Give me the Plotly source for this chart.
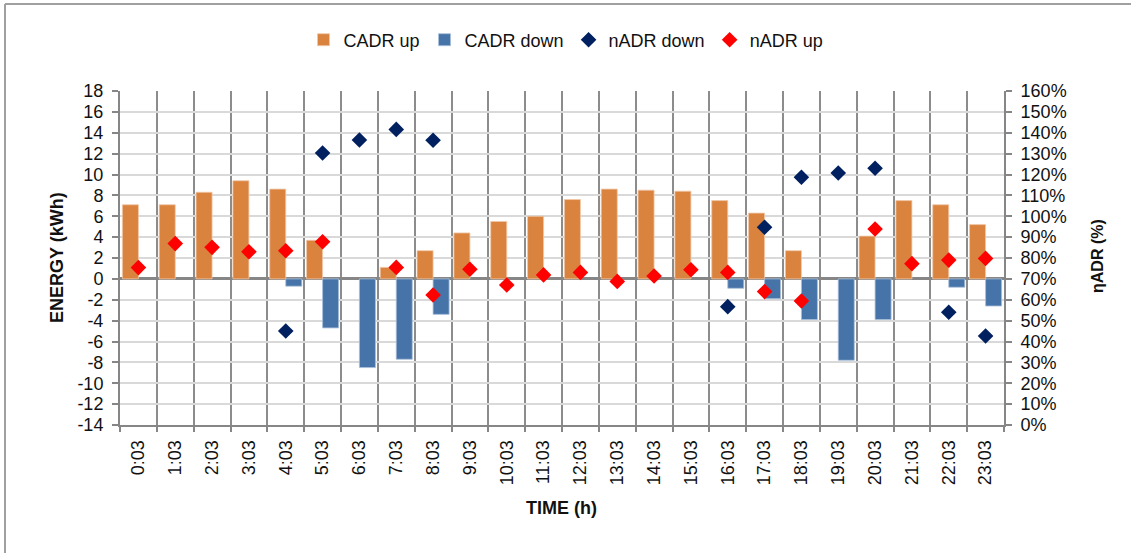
import plotly.graph_objects as go

times = ["0:03", "1:03", "2:03", "3:03", "4:03", "5:03", "6:03", "7:03", "8:03", "9:03",
         "10:03", "11:03", "12:03", "13:03", "14:03", "15:03", "16:03", "17:03", "18:03",
         "19:03", "20:03", "21:03", "22:03", "23:03"]

cadr_up = [7.1, 7.1, 8.3, 9.4, 8.6, 3.7, None, 1.1, 2.7, 4.4, 5.5, 6.0, 7.6, 8.6, 8.5, 8.4,
           7.5, 6.3, 2.7, None, 4.1, 7.5, 7.1, 5.2]
cadr_down = [None, None, None, None, -0.7, -4.7, -8.5, -7.7, -3.4, None, None, None, None,
             None, None, None, -0.9, -1.9, -3.9, -7.8, -3.9, None, -0.8, -2.6]
nadr_down = [None, None, None, None, 0.45, 1.303, 1.365, 1.416, 1.364, None, None, None,
             None, None, None, None, 0.567, 0.947, 1.187, 1.207, 1.23, None, 0.54, 0.426]
nadr_up = [0.754, 0.869, 0.851, 0.830, 0.835, 0.878, None, 0.755, 0.623, 0.746, 0.671,
           0.719, 0.731, 0.688, 0.714, 0.744, 0.731, 0.639, 0.594, None, 0.939, 0.773,
           0.790, 0.798]

energy_ticks = [18, 16, 14, 12, 10, 8, 6, 4, 2, 0, -2, -4, -6, -8, -10, -12, -14]
energy_labels = ["18", "16", "14", "12", "10", "8", "6", "4", "2", "0", "-2", "-4", "-6",
                 "-8", "-10", "-12", "-14"]

FONT = "Liberation Sans, Arial, sans-serif"
AX = "#868686"
TXT = "#111111"

fig = go.Figure()
fig.add_trace(go.Bar(x=times, y=cadr_up, name="CADR up",
                     marker=dict(color="#DA833F", line=dict(color="#F0C8A8", width=0.8))))
fig.add_trace(go.Bar(x=times, y=cadr_down, name="CADR down",
                     marker=dict(color="#4674A9", line=dict(color="#A9BFDA", width=0.8))))
fig.add_trace(go.Scatter(x=times, y=nadr_down, name="nADR down", mode="markers", yaxis="y2",
                         marker=dict(symbol="diamond", size=12, color="#002060")))
fig.add_trace(go.Scatter(x=times, y=nadr_up, name="nADR up", mode="markers", yaxis="y2",
                         marker=dict(symbol="diamond", size=12, color="#FF0000")))

L, R, T, B = 120, 1004, 91, 425
W, H = 1131, 553
pw, ph = R - L, B - T

def px(x):
    return (x - L) / pw

def py(y):
    return (B - y) / ph

fig.update_layout(
    width=W, height=H,
    margin=dict(l=L, r=W - R, t=T, b=H - B, pad=0),
    paper_bgcolor="white", plot_bgcolor="white",
    font=dict(family=FONT, size=18, color=TXT),
    barmode="group", bargap=0.13, bargroupgap=0,
    showlegend=True,
    legend=dict(orientation="h", x=px(566), xanchor="center", y=py(40), yanchor="middle",
                font=dict(size=18), traceorder="normal", bgcolor="rgba(0,0,0,0)"),
    xaxis=dict(type="category", tickson="boundaries", showgrid=True, gridcolor="#8C8C8C",
               gridwidth=2, ticks="outside", ticklen=5, tickcolor=AX, tickwidth=1.5,
               showline=True, linecolor=AX, linewidth=2, tickangle=-90,
               ticklabelstandoff=6,
               tickfont=dict(size=18), range=[-0.5, 23.5], zeroline=False),
    yaxis=dict(range=[-14, 18], tickmode="array", tickvals=energy_ticks,
               ticktext=energy_labels, showgrid=True, gridcolor="#D9D9D9", gridwidth=2,
               zeroline=True, zerolinecolor=AX, zerolinewidth=2.5,
               showline=True, linecolor=AX, linewidth=2, ticks="outside", ticklen=6,
               tickcolor=AX, tickwidth=1.5, ticklabelstandoff=5, tickfont=dict(size=18)),
    yaxis2=dict(range=[0, 1.6], dtick=0.1, tickformat=".0%", overlaying="y", side="right",
                showgrid=False, zeroline=False, showline=True, linecolor=AX, linewidth=2,
                ticks="outside", ticklen=6, tickcolor=AX, tickwidth=1.5,
                ticklabelstandoff=5, tickfont=dict(size=18)),
)

fig.add_annotation(text="<b>ENERGY (kWh)</b>", xref="paper", yref="paper",
                   x=px(57), y=py(258), xanchor="center", yanchor="middle",
                   textangle=-90, showarrow=False,
                   font=dict(size=18, family=FONT, color=TXT))
fig.add_annotation(text="<b>ηADR (%)</b>", xref="paper", yref="paper",
                   x=px(1098), y=py(256), xanchor="center", yanchor="middle",
                   textangle=-90, showarrow=False,
                   font=dict(size=16, family=FONT, color=TXT))
fig.add_annotation(text="<b>TIME (h)</b>", xref="paper", yref="paper",
                   x=px(561), y=py(508), xanchor="center", yanchor="middle",
                   showarrow=False, font=dict(size=18, family=FONT, color=TXT))

# outer chart border (left and top edges visible)
fig.add_shape(type="line", xref="paper", yref="paper", x0=px(5), x1=px(5), y0=py(560),
              y1=py(4), line=dict(color="#A0A0A0", width=2))
fig.add_shape(type="line", xref="paper", yref="paper", x0=px(5), x1=px(1140), y0=py(4),
              y1=py(4), line=dict(color="#A0A0A0", width=2))

fig.write_html("out.html")
